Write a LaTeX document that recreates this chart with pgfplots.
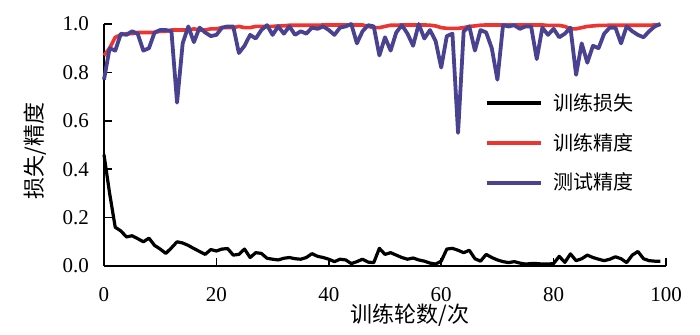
\documentclass[border=0pt]{standalone}
\usepackage{pgfplots}
\usepackage{pgfplotstable}
\pgfplotsset{compat=1.18}
\usepackage{fontspec}
\setmainfont{Liberation Serif}
\newfontfamily\cjk{Noto Sans CJK SC}
\definecolor{myblue}{RGB}{72,66,145}
\definecolor{myred}{RGB}{236,52,48}

\pgfplotstableread{
x loss train test
0 0.46 0.870 0.77
1 0.30 0.900 0.90
2 0.16 0.945 0.89
3 0.145 0.955 0.96
4 0.12 0.960 0.955
5 0.125 0.960 0.97
6 0.113 0.965 0.96
7 0.10 0.965 0.89
8 0.115 0.965 0.90
9 0.085 0.965 0.965
10 0.07 0.970 0.975
11 0.052 0.970 0.975
12 0.075 0.975 0.97
13 0.10 0.975 0.675
14 0.095 0.975 0.92
15 0.085 0.975 0.99
16 0.072 0.980 0.925
17 0.06 0.975 0.985
18 0.048 0.975 0.965
19 0.068 0.980 0.95
20 0.062 0.980 0.955
21 0.07 0.985 0.985
22 0.072 0.985 0.99
23 0.045 0.985 0.99
24 0.048 0.990 0.88
25 0.07 0.985 0.91
26 0.035 0.985 0.955
27 0.055 0.990 0.94
28 0.052 0.990 0.975
29 0.032 0.990 0.995
30 0.028 0.990 0.955
31 0.025 0.992 0.99
32 0.032 0.992 0.96
33 0.035 0.995 0.99
34 0.03 0.995 0.955
35 0.028 0.995 0.97
36 0.035 0.995 0.96
37 0.051 0.995 0.985
38 0.04 0.995 0.98
39 0.035 0.996 0.99
40 0.028 0.996 0.975
41 0.018 0.996 0.955
42 0.028 0.996 0.985
43 0.025 0.996 0.99
44 0.01 0.996 1.0
45 0.018 0.996 0.92
46 0.028 0.996 0.97
47 0.016 0.990 0.995
48 0.014 0.985 0.99
49 0.073 0.985 0.87
50 0.048 0.990 0.945
51 0.055 0.995 0.89
52 0.045 0.995 0.965
53 0.035 0.996 0.995
54 0.028 0.996 0.96
55 0.033 0.996 0.91
56 0.025 0.996 1.0
57 0.02 0.996 0.94
58 0.012 0.995 0.975
59 0.008 0.992 0.93
60 0.02 0.985 0.82
61 0.07 0.982 0.95
62 0.073 0.982 0.96
63 0.065 0.982 0.55
64 0.055 0.985 0.97
65 0.065 0.990 0.99
66 0.03 0.992 0.89
67 0.02 0.995 0.975
68 0.048 0.996 0.965
69 0.035 0.996 0.90
70 0.025 0.996 0.77
71 0.018 0.996 0.995
72 0.014 0.996 0.99
73 0.018 0.996 0.995
74 0.012 0.996 0.98
75 0.008 0.996 0.99
76 0.01 0.996 0.99
77 0.01 0.996 0.855
78 0.008 0.996 0.985
79 0.008 0.994 0.955
80 0.01 0.994 0.98
81 0.04 0.994 0.945
82 0.015 0.990 0.96
83 0.05 0.980 0.985
84 0.022 0.980 0.79
85 0.03 0.985 0.92
86 0.045 0.990 0.84
87 0.035 0.992 0.91
88 0.028 0.994 0.90
89 0.022 0.994 0.96
90 0.028 0.995 0.985
91 0.038 0.995 0.985
92 0.03 0.995 0.92
93 0.014 0.995 0.99
94 0.045 0.995 0.97
95 0.06 0.995 0.955
96 0.03 0.995 0.945
97 0.022 0.995 0.97
98 0.02 0.996 0.99
99 0.02 0.998 1.0
}\datatable

\begin{document}
\begin{tikzpicture}
\begin{axis}[
  name=ax,
  at={(0,0)}, anchor=south west,
  scale only axis,
  width=281pt, height=121pt,
  xmin=0, xmax=100, ymin=0, ymax=1,
  clip=false,
  axis x line=bottom, axis y line=left,
  axis line style={-, line width=0.8pt},
  tick style={line width=0.8pt, black},
  tick align=inside,
  major tick length=4pt,
  xtick={0,20,40,60,80,100},
  ytick={0,0.2,0.4,0.6,0.8,1.0},
  yticklabel style={/pgf/number format/.cd, fixed, fixed zerofill, precision=1, /tikz/.cd, xshift=-4pt},
  xticklabel style={yshift=-7pt},
  /pgf/number format/assume math mode=true,
  ticklabel style={font=\fontsize{10.5}{12}\selectfont},
  xlabel={\cjk 训练轮数/次},
  ylabel={\cjk 损失/精度},
  xlabel style={at={(rel axis cs:0.545,0)}, anchor=center, yshift=-24.5pt, font=\fontsize{11}{13}\selectfont},
  ylabel style={at={(rel axis cs:-0.1228,0.475)}, anchor=center, font=\fontsize{11}{13}\selectfont},
  legend style={draw=none, fill=none, at={(rel axis cs:0.677,0.508)}, anchor=west,
    font=\cjk\fontsize{10}{12}\selectfont, row sep=6pt, inner sep=0pt,
    /tikz/every odd column/.append style={column sep=3pt}},
  legend cell align=left,
  legend image code/.code={\draw[#1, line width=2.3pt] (0pt,0pt) -- (27pt,0pt);},
]
\addplot[black, line width=1.6pt, line join=round] table[x=x, y=loss] {\datatable};
\addlegendentry{训练损失}
\addplot[myred, line width=1.8pt, line join=round] table[x=x, y=train] {\datatable};
\addlegendentry{训练精度}
\addplot[myblue, line width=1.9pt, line join=round] table[x=x, y=test] {\datatable};
\addlegendentry{测试精度}
\end{axis}
\pgfresetboundingbox
\path ([shift={(-52pt,-34.5pt)}]ax.south west) rectangle ([shift={(17pt,12pt)}]ax.north east);
\end{tikzpicture}
\end{document}
